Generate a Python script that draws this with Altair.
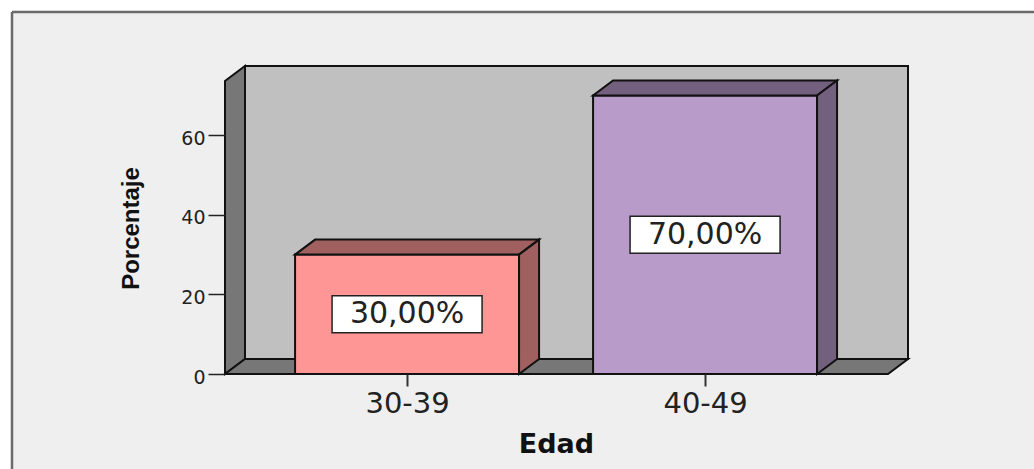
import json

import altair as alt
import pandas as pd

# Age groups and their share of respondents (%)
categories = ["30-39", "40-49"]
percentages = [30.0, 70.0]

# Face colours of each bar: front face and the darker top/side faces
bar_fronts = ["#ff9696", "#b89bc9"]
bar_shades = ["#a06060", "#735f7e"]

# Canvas and plot area (pixels) and the pseudo-3D depth, expressed in scale units
CANVAS_W, CANVAS_H = 1034, 469
LEFT, TOP = 225, 66
W, H = 683, 308
Y_MAX = 77.4
X_MIN, X_MAX = -0.611, 1.681
PX_X = (X_MAX - X_MIN) / W
PX_Y = Y_MAX / H
DX = 20 * PX_X
DY = 15 * PX_Y
HALF = 112 * PX_X
BOX_W = 75 * PX_X
BOX_H = 18.5 * PX_Y

xs = alt.Scale(domain=[X_MIN, X_MAX], nice=False, zero=False)
ys = alt.Scale(domain=[0, Y_MAX], nice=False, zero=False)

x_axis = alt.Axis(
    values=list(range(len(categories))),
    labelExpr=f"{json.dumps(categories)}[datum.value]",
    title="Edad",
    grid=False,
    domain=False,
    zindex=1,
    tickSize=12,
    tickWidth=2,
    tickColor="#333333",
    labelFont="DejaVu Sans",
    labelFontSize=29,
    labelColor="#222222",
    labelPadding=3,
    titleFont="DejaVu Sans",
    titleFontSize=27,
    titleFontWeight="bold",
    titleColor="#111111",
    titleX=331,
    titleY=78,
    titleBaseline="alphabetic",
)
y_axis = alt.Axis(
    values=[0, 20, 40, 60],
    title="Porcentaje",
    grid=False,
    domain=False,
    zindex=1,
    tickSize=17,
    tickWidth=1.5,
    tickColor="#222222",
    labelFont="DejaVu Sans",
    labelFontSize=19,
    labelColor="#222222",
    labelPadding=3,
    labelOffset=3,
    titleFont="Liberation Sans",
    titleFontSize=24,
    titleFontWeight="bold",
    titleColor="#111111",
    titleAngle=-90,
    titleBaseline="middle",
    titleX=-94,
    titleY=162,
)


def X(field):
    return alt.X(f"{field}:Q", scale=xs, axis=x_axis)


def Y(field):
    return alt.Y(f"{field}:Q", scale=ys, axis=y_axis, stack=None)


# Walls of the 3D box
back_wall = pd.DataFrame({"x": [X_MIN + DX], "x2": [X_MAX], "y": [DY], "y2": [Y_MAX]})
side_walls = pd.DataFrame(
    {
        "face": ["left", "left", "floor", "floor", "floor", "floor"],
        "x": [X_MIN, X_MIN + DX, X_MIN, X_MIN + DX, X_MAX - DX, X_MAX],
        "lo": [0, DY, 0, 0, 0, DY],
        "hi": [Y_MAX - DY, Y_MAX, 0, DY, DY, DY],
    }
)

# Bar faces built from the percentages
fronts, faces, labels = [], [], []
for i, (cat, v) in enumerate(zip(categories, percentages)):
    fronts.append({"x": i - HALF, "x2": i + HALF, "y": 0, "y2": v, "fill": bar_fronts[i]})
    top = f"top{i}"
    side = f"side{i}"
    faces += [
        {"face": top, "x": i - HALF, "lo": v, "hi": v, "fill": bar_shades[i]},
        {"face": top, "x": i - HALF + DX, "lo": v, "hi": v + DY, "fill": bar_shades[i]},
        {"face": top, "x": i + HALF, "lo": v, "hi": v + DY, "fill": bar_shades[i]},
        {"face": top, "x": i + HALF + DX, "lo": v + DY, "hi": v + DY, "fill": bar_shades[i]},
        {"face": side, "x": i + HALF, "lo": 0, "hi": v, "fill": bar_shades[i]},
        {"face": side, "x": i + HALF + DX, "lo": DY, "hi": v + DY, "fill": bar_shades[i]},
    ]
    labels.append(
        {
            "x": i,
            "y": v / 2,
            "bx": i - BOX_W,
            "bx2": i + BOX_W,
            "by": v / 2 - BOX_H,
            "by2": v / 2 + BOX_H,
            "text": f"{v:.2f}".replace(".", ",") + "%",
        }
    )
fronts = pd.DataFrame(fronts)
faces = pd.DataFrame(faces)
labels = pd.DataFrame(labels)

# Light panel behind the chart, cut by the canvas on the right and bottom
one = pd.DataFrame({"k": [0]})
fx0, fy0 = 12 - LEFT, 12 - TOP
fx1, fy1 = CANVAS_W - LEFT, CANVAS_H - TOP
panel = (
    alt.Chart(one)
    .mark_rect(fill="#efefef")
    .encode(x=alt.value(fx0), x2=alt.value(fx1), y=alt.value(fy0), y2=alt.value(fy1))
)
panel_left = (
    alt.Chart(one)
    .mark_rule(color="#6a6a6a", strokeWidth=2.5)
    .encode(x=alt.value(fx0), y=alt.value(fy0), y2=alt.value(fy1))
)
panel_top = (
    alt.Chart(one)
    .mark_rule(color="#6a6a6a", strokeWidth=2.5)
    .encode(x=alt.value(fx0), x2=alt.value(fx1), y=alt.value(fy0))
)

wall = (
    alt.Chart(back_wall)
    .mark_rect(fill="#c0c0c0", stroke="#111111", strokeWidth=2)
    .encode(x=X("x"), x2="x2", y=Y("y"), y2="y2")
)

walls = (
    alt.Chart(side_walls)
    .mark_area(fill="#777777", stroke="#111111", strokeWidth=2, interpolate="linear")
    .encode(x=X("x"), y=Y("lo"), y2="hi", detail="face:N")
)

bar_front = (
    alt.Chart(fronts)
    .mark_rect(stroke="#111111", strokeWidth=2)
    .encode(x=X("x"), x2="x2", y=Y("y"), y2="y2", fill=alt.Fill("fill:N", scale=None))
)

bar_faces = (
    alt.Chart(faces)
    .mark_area(stroke="#111111", strokeWidth=2, interpolate="linear")
    .encode(x=X("x"), y=Y("lo"), y2="hi", detail="face:N", fill=alt.Fill("fill:N", scale=None))
)

label_box = (
    alt.Chart(labels)
    .mark_rect(fill="white", stroke="#222222", strokeWidth=1.5)
    .encode(x=X("bx"), x2="bx2", y=Y("by"), y2="by2")
)

label_text = (
    alt.Chart(labels)
    .mark_text(font="DejaVu Sans", fontSize=30, color="#222222", baseline="middle", align="center")
    .encode(x=X("x"), y=Y("y"), text="text:N")
)

chart = (
    alt.layer(panel, panel_left, panel_top, wall, walls, bar_front, bar_faces, label_box, label_text)
    .properties(
        width=W,
        height=H,
        padding={"left": LEFT, "top": TOP, "right": CANVAS_W - LEFT - W, "bottom": CANVAS_H - TOP - H},
        autosize=alt.AutoSizeParams(type="none"),
        background="white",
    )
    .configure_view(stroke=None)
)

chart.save("out.html", embed_options={"renderer": "svg", "actions": False})
